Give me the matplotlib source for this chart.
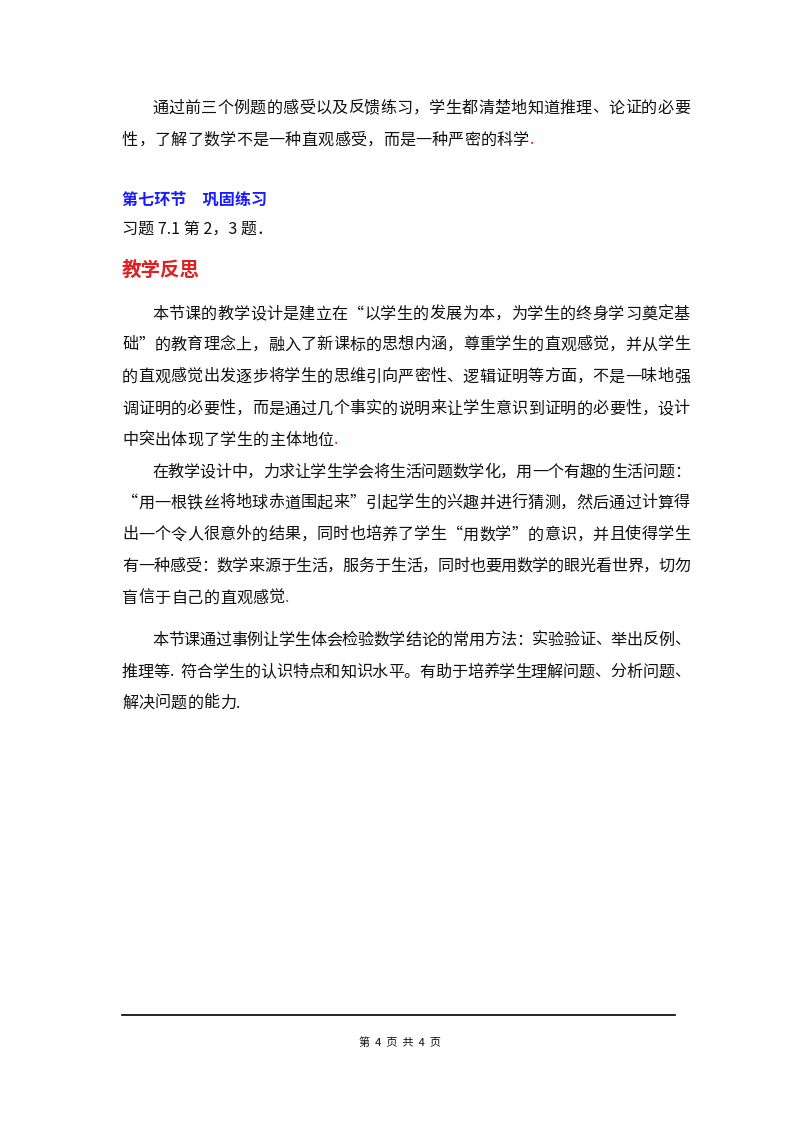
import matplotlib
matplotlib.use("Agg")
import matplotlib.pyplot as plt

plt.rcParams['font.family'] = ['Noto Sans CJK SC', 'DejaVu Sans']

W, H = 800, 1132
LEFT, RIGHT = 122, 690
STEP = 16.3
BLACK = '#111111'
RED = '#e02020'

# (text, first-line indent, y in px, justify to right margin, red last char)
intro_lines = [
    ("通过前三个例题的感受以及反馈练习，学生都清楚地知道推理、论证的必要", True, 108, True, False),
    ("性，了解了数学不是一种直观感受，而是一种严密的科学.", False, 140, False, True),
]
reflect_lines = [
    ("本节课的教学设计是建立在“以学生的发展为本，为学生的终身学习奠定基", True, 314, True, False),
    ("础”的教育理念上，融入了新课标的思想内涵，尊重学生的直观感觉，并从学生", False, 345, True, False),
    ("的直观感觉出发逐步将学生的思维引向严密性、逻辑证明等方面，不是一味地强", False, 377, True, False),
    ("调证明的必要性，而是通过几个事实的说明来让学生意识到证明的必要性，设计", False, 409, True, False),
    ("中突出体现了学生的主体地位.", False, 440, False, True),
    ("在教学设计中，力求让学生学会将生活问题数学化，用一个有趣的生活问题：", True, 472, True, False),
    ("“用一根铁丝将地球赤道围起来”引起学生的兴趣并进行猜测，然后通过计算得", False, 503, True, False),
    ("出一个令人很意外的结果，同时也培养了学生“用数学”的意识，并且使得学生", False, 535, True, False),
    ("有一种感受：数学来源于生活，服务于生活，同时也要用数学的眼光看世界，切勿", False, 566, True, False),
    ("盲信于自己的直观感觉.", False, 598, False, True),
    ("本节课通过事例让学生体会检验数学结论的常用方法：实验验证、举出反例、", True, 640, True, False),
    ("推理等. 符合学生的认识特点和知识水平。有助于培养学生理解问题、分析问题、", False, 672, True, False),
    ("解决问题的能力.", False, 703, False, False),
]
section_title = "第七环节　巩固练习"
exercise = "习题 7.1 第 2，3 题．"
heading = "教学反思"
footer = "第  4  页  共  4  页"

fig = plt.figure(figsize=(W / 100, H / 100), dpi=100)
ax = fig.add_axes([0, 0, 1, 1])
ax.set_xlim(0, W)
ax.set_ylim(H, 0)
ax.axis('off')


def draw_line(text, indent, y, justify, red_last):
    x0 = LEFT + (30 if indent else 0)
    n = len(text)
    # ASCII characters take half a full-width cell
    weights = [0.35 if ord(ch) < 128 else 1.0 for ch in text]
    step = (RIGHT - x0) / sum(weights) if justify else STEP
    x = x0
    for i, ch in enumerate(text):
        col = RED if (red_last and i == n - 1) else BLACK
        ax.text(x, y, ch, fontsize=11.6, color=col, ha='left', va='center')
        x += weights[i] * step


for line in intro_lines + reflect_lines:
    draw_line(*line)

ax.text(LEFT, 200, section_title, fontsize=11.6, color='#1a1aff',
        fontweight='bold', ha='left', va='center')
ax.text(LEFT, 229, exercise, fontsize=11.6, color=BLACK, ha='left', va='center')
ax.text(LEFT, 270, heading, fontsize=14, color=RED, fontweight='bold',
        ha='left', va='center')

ax.plot([LEFT, 675], [1015, 1015], color='black', lw=1.2)
ax.text(400, 1043, footer, fontsize=8, color=BLACK, ha='center', va='center')

fig.savefig('out.png', dpi=100)
